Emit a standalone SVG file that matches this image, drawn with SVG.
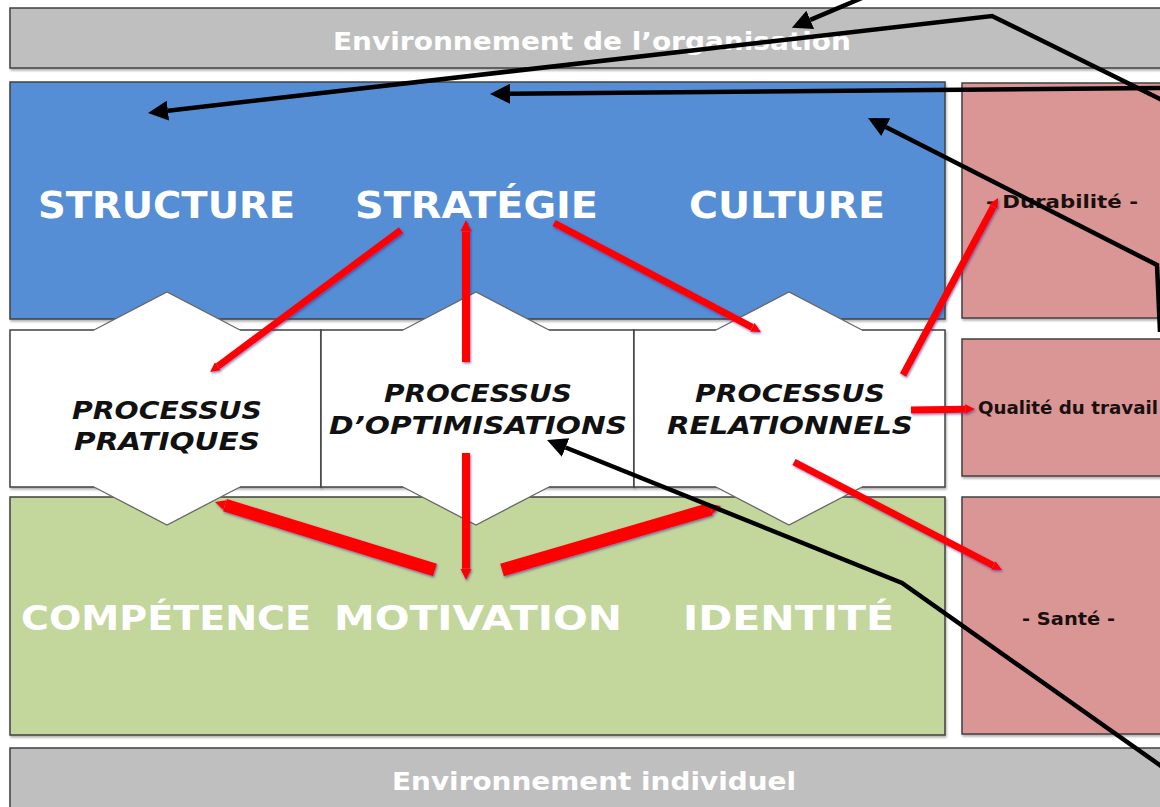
<svg xmlns="http://www.w3.org/2000/svg" width="1160" height="807" viewBox="0 0 1160 807">
  <style>
    .box { stroke: #404040; stroke-width: 1.5; }
    .bar { fill: #BFBFBF; }
    .blue { fill: #558ED5; }
    .green { fill: #C3D69B; }
    .pink { fill: #D99694; }
    .white { fill: #FFFFFF; }
    .hex { fill: #FFFFFF; stroke: none; }
    .hexedge { fill: none; stroke: #666666; stroke-width: 1.3; }
    .big { font-family: "DejaVu Sans", Verdana, sans-serif; font-weight: bold; fill: #FFFFFF; }
    .env { font-family: "DejaVu Sans", Verdana, sans-serif; font-weight: bold; fill: #FFFFFF; font-size: 24px; }
    .proc { font-family: "DejaVu Sans", Verdana, sans-serif; font-weight: bold; font-style: italic; fill: #111111; font-size: 25px; text-anchor: start; }
    .res { font-family: "DejaVu Sans", Verdana, sans-serif; font-weight: bold; fill: #1a1010; }
    .red { fill: none; stroke: #FF0000; stroke-linecap: butt; }
    .blk { fill: none; stroke: #000000; stroke-width: 4.5; stroke-linejoin: miter; }
  </style>
  <defs>
    <filter id="shadow" x="-5%" y="-5%" width="110%" height="115%">
      <feDropShadow dx="1" dy="2" stdDeviation="1.2" flood-color="#000000" flood-opacity="0.3"/>
    </filter>
    <filter id="rshadow" x="-20%" y="-20%" width="140%" height="140%">
      <feDropShadow dx="1" dy="1.5" stdDeviation="1.2" flood-color="#3a2a8a" flood-opacity="0.6"/>
    </filter>
    <marker id="ah" viewBox="0 0 10 10" refX="0" refY="5" markerWidth="1.4" markerHeight="1.8" markerUnits="strokeWidth" orient="auto">
      <path d="M0,0 L10,5 L0,10 z" fill="#FF0000"/>
    </marker>
    <marker id="ahT" viewBox="0 0 10 10" refX="0" refY="5" markerWidth="0.8" markerHeight="1.4" markerUnits="strokeWidth" orient="auto">
      <path d="M0,0 L10,5 L0,10 z" fill="#FF0000"/>
    </marker>
    <marker id="bh" viewBox="0 0 20 20" refX="0" refY="10" markerWidth="20" markerHeight="20" markerUnits="userSpaceOnUse" orient="auto">
      <path d="M0,0 L20,10 L0,20 z" fill="#000000"/>
    </marker>
  </defs>

  <rect width="1160" height="807" fill="#FFFFFF"/>

  <g id="env-org">
    <rect class="box bar" x="10" y="8" width="1160" height="60" filter="url(#shadow)"/>
    <text class="env" x="333" y="50" textLength="518" lengthAdjust="spacingAndGlyphs">Environnement de l’organisation</text>
  </g>

  <g id="env-ind">
    <rect class="box bar" x="10" y="748" width="1160" height="70" filter="url(#shadow)"/>
    <text class="env" x="392" y="790" textLength="404" lengthAdjust="spacingAndGlyphs">Environnement individuel</text>
  </g>

  <g id="organisation">
    <rect class="box blue" x="10" y="82" width="935" height="237" filter="url(#shadow)"/>
  </g>

  <g id="individu">
    <rect class="box green" x="10" y="497" width="935" height="238" filter="url(#shadow)"/>
  </g>

  <g id="resultats">
    <rect class="box pink" x="962" y="83" width="210" height="235" filter="url(#shadow)"/>
    <rect class="box pink" x="962" y="339" width="210" height="137" filter="url(#shadow)"/>
    <rect class="box pink" x="962" y="497" width="210" height="237" filter="url(#shadow)"/>
  </g>

  <g id="processus-row">
    <rect class="box white" x="10" y="330" width="311" height="157" filter="url(#shadow)"/>
    <rect class="box white" x="321" y="330" width="313" height="157" filter="url(#shadow)"/>
    <rect class="box white" x="634" y="330" width="311" height="157" filter="url(#shadow)"/>
  </g>

  <g id="hex-pratiques">
    <polygon class="hex" points="94,330 167,292 240,330 240,487 167,525 94,487"/>
    <polyline class="hexedge" points="94,330 167,292 240,330"/>
    <polyline class="hexedge" points="94,487 167,525 240,487"/>
    <text class="proc" x="72" y="419" textLength="190" lengthAdjust="spacingAndGlyphs">PROCESSUS</text>
    <text class="proc" x="74" y="450" textLength="186" lengthAdjust="spacingAndGlyphs">PRATIQUES</text>
  </g>

  <g id="hex-optimisations">
    <polygon class="hex" points="403,330 476,292 549,330 549,487 476,525 403,487"/>
    <polyline class="hexedge" points="403,330 476,292 549,330"/>
    <polyline class="hexedge" points="403,487 476,525 549,487"/>
    <text class="proc" x="384" y="402" textLength="188" lengthAdjust="spacingAndGlyphs">PROCESSUS</text>
    <text class="proc" x="329" y="434" textLength="298" lengthAdjust="spacingAndGlyphs">D’OPTIMISATIONS</text>
  </g>

  <g id="hex-relationnels">
    <polygon class="hex" points="716,330 789,292 862,330 862,487 789,525 716,487"/>
    <polyline class="hexedge" points="716,330 789,292 862,330"/>
    <polyline class="hexedge" points="716,487 789,525 862,487"/>
    <text class="proc" x="695" y="402" textLength="190" lengthAdjust="spacingAndGlyphs">PROCESSUS</text>
    <text class="proc" x="667" y="434" textLength="246" lengthAdjust="spacingAndGlyphs">RELATIONNELS</text>
  </g>

  <g id="labels-organisation">
    <text class="big" x="38" y="218" font-size="38" textLength="257" lengthAdjust="spacingAndGlyphs">STRUCTURE</text>
    <text class="big" x="355" y="218" font-size="38" textLength="243" lengthAdjust="spacingAndGlyphs">STRATÉGIE</text>
    <text class="big" x="689" y="218" font-size="38" textLength="196" lengthAdjust="spacingAndGlyphs">CULTURE</text>
  </g>

  <g id="labels-individu">
    <text class="big" x="21" y="630" font-size="34" textLength="290" lengthAdjust="spacingAndGlyphs">COMPÉTENCE</text>
    <text class="big" x="334" y="630" font-size="34" textLength="288" lengthAdjust="spacingAndGlyphs">MOTIVATION</text>
    <text class="big" x="683" y="630" font-size="34" textLength="211" lengthAdjust="spacingAndGlyphs">IDENTITÉ</text>
  </g>

  <g id="labels-resultats">
    <text class="res" x="986" y="208" font-size="17" textLength="152" lengthAdjust="spacingAndGlyphs">- Durabilité -</text>
    <text class="res" x="978" y="414" font-size="17" textLength="180" lengthAdjust="spacingAndGlyphs">Qualité du travail</text>
    <text class="res" x="1022" y="625" font-size="18" textLength="93" lengthAdjust="spacingAndGlyphs">- Santé -</text>
  </g>

  <g id="connectors">
    <g filter="url(#rshadow)">
      <path class="red" stroke-width="7" marker-end="url(#ah)" d="M401,230 L217.9,366.2"/>
      <path class="red" stroke-width="8" marker-end="url(#ah)" d="M466,362 L466,231.2"/>
      <path class="red" stroke-width="7" marker-end="url(#ah)" d="M554,223 L752.3,327.4"/>
      <path class="red" stroke-width="7" marker-end="url(#ah)" d="M903,375 L993.4,206.6"/>
      <path class="red" stroke-width="7" marker-end="url(#ah)" d="M911,410 L965.2,409.2"/>
      <path class="red" stroke-width="7" marker-end="url(#ah)" d="M794,462 L993.3,565.5"/>
      <path class="red" stroke-width="13" marker-end="url(#ahT)" d="M435,570 L224.9,505.1"/>
      <path class="red" stroke-width="8" marker-end="url(#ah)" d="M466,453 L466,568.8"/>
      <path class="red" stroke-width="13" marker-end="url(#ahT)" d="M502,570 L711,508.9"/>
    </g>
    <path class="blk" marker-end="url(#bh)" d="M862,-2 L810.3,19.9"/>
    <path class="blk" marker-end="url(#bh)" d="M1164,101 L992,16 L167.9,110.7"/>
    <path class="blk" marker-end="url(#bh)" d="M1164,88 L510,93.8"/>
    <path class="blk" marker-end="url(#bh)" d="M1160,332 L1157,265 L885.8,127.1"/>
    <path class="blk" stroke-width="3.8" marker-end="url(#bh)" d="M1164,768 L902,583 L565.6,447.5"/>
  </g>
</svg>
